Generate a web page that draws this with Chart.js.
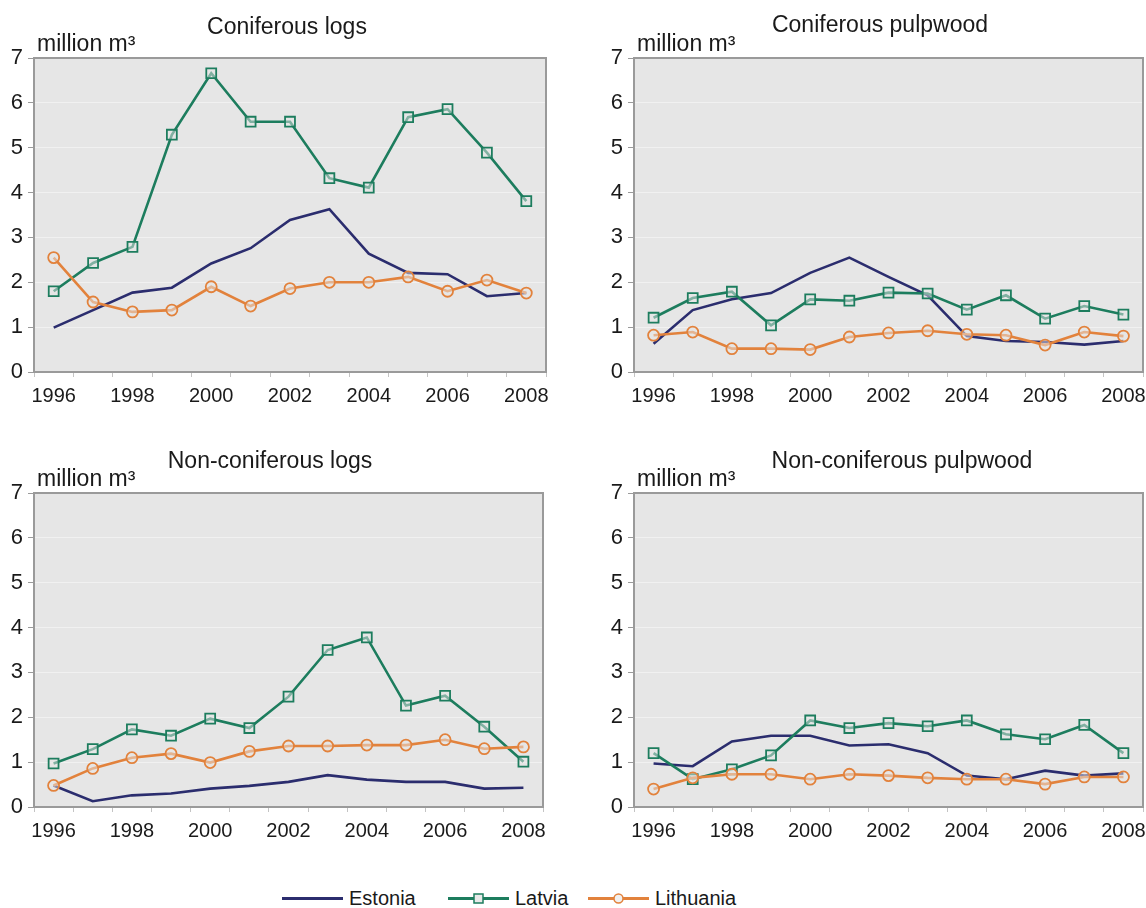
<!DOCTYPE html>
<html>
<head>
<meta charset="utf-8">
<title>Roundwood removals in the Baltic states, 1996-2008</title>
<script src="https://cdn.jsdelivr.net/npm/chart.js@4.4.1/dist/chart.umd.min.js"></script>
<style>
  html, body { margin: 0; padding: 0; background: #ffffff; }
  body {
    width: 1146px; height: 908px; position: relative; overflow: hidden;
    font-family: "Liberation Sans", Arial, Helvetica, sans-serif; color: #1a1a1a;
  }
  canvas.panel { position: absolute; }
  .legend-item { position: absolute; top: 886px; height: 24px; display: flex; align-items: center; font-size: 20px; }
  .legend-item svg { margin-right: 6px; }
</style>
</head>
<body>
<canvas id="p1" class="panel"></canvas>
<canvas id="p2" class="panel"></canvas>
<canvas id="p3" class="panel"></canvas>
<canvas id="p4" class="panel"></canvas>
<div id="legend"></div>

<script>
// Years on the horizontal axis (only even years are labelled)
const years = ['1996','1997','1998','1999','2000','2001','2002','2003','2004','2005','2006','2007','2008'];
const yTicks = [0, 1, 2, 3, 4, 5, 6, 7];
const countries = ['Estonia', 'Latvia', 'Lithuania'];

// Coniferous logs, million m³
const conLogsEstonia   = [0.99, 1.38, 1.77, 1.88, 2.42, 2.76, 3.39, 3.63, 2.64, 2.21, 2.18, 1.69, 1.76];
const conLogsLatvia    = [1.80, 2.43, 2.79, 5.29, 6.66, 5.58, 5.58, 4.32, 4.11, 5.68, 5.86, 4.89, 3.81];
const conLogsLithuania = [2.55, 1.56, 1.34, 1.38, 1.90, 1.47, 1.86, 2.00, 2.00, 2.12, 1.80, 2.05, 1.76];

// Coniferous pulpwood, million m³
const conPulpEstonia   = [0.63, 1.38, 1.62, 1.76, 2.21, 2.55, 2.12, 1.71, 0.80, 0.69, 0.67, 0.61, 0.69];
const conPulpLatvia    = [1.21, 1.65, 1.79, 1.04, 1.62, 1.59, 1.77, 1.75, 1.39, 1.71, 1.19, 1.47, 1.28];
const conPulpLithuania = [0.82, 0.89, 0.52, 0.52, 0.50, 0.78, 0.87, 0.92, 0.84, 0.82, 0.60, 0.89, 0.80];

// Non-coniferous logs, million m³
const nonLogsEstonia   = [0.48, 0.13, 0.26, 0.30, 0.41, 0.47, 0.56, 0.71, 0.61, 0.56, 0.56, 0.41, 0.43];
const nonLogsLatvia    = [0.97, 1.29, 1.73, 1.59, 1.97, 1.76, 2.46, 3.50, 3.78, 2.26, 2.48, 1.79, 1.01];
const nonLogsLithuania = [0.48, 0.86, 1.10, 1.19, 0.99, 1.24, 1.36, 1.36, 1.38, 1.38, 1.50, 1.30, 1.34];

// Non-coniferous pulpwood, million m³
const nonPulpEstonia   = [0.97, 0.91, 1.46, 1.59, 1.59, 1.37, 1.40, 1.20, 0.70, 0.62, 0.81, 0.70, 0.75];
const nonPulpLatvia    = [1.20, 0.62, 0.84, 1.15, 1.93, 1.76, 1.87, 1.80, 1.93, 1.62, 1.51, 1.83, 1.20];
const nonPulpLithuania = [0.40, 0.65, 0.73, 0.73, 0.62, 0.73, 0.70, 0.65, 0.62, 0.62, 0.51, 0.67, 0.67];

const unitLabel = 'million m³';

// Series styling
const seriesStyle = [
  { color: '#2b2d6e', pointStyle: false,    radius: 0 },
  { color: '#1d7d5e', pointStyle: 'rect',   radius: 7 },
  { color: '#e2823c', pointStyle: 'circle', radius: 5.5 }
];

const FONT = '"Liberation Sans", Arial, Helvetica, sans-serif';

// Panel placement on the page
const panels = [
  { id: 'p1', title: 'Coniferous logs',          series: [conLogsEstonia, conLogsLatvia, conLogsLithuania],    left: 0,   top: 0,   width: 573, plotRight: 546, titleX: 287, titleY: 28 },
  { id: 'p2', title: 'Coniferous pulpwood',      series: [conPulpEstonia, conPulpLatvia, conPulpLithuania],    left: 600, top: 0,   width: 546, plotRight: 543, titleX: 280, titleY: 26 },
  { id: 'p3', title: 'Non-coniferous logs',      series: [nonLogsEstonia, nonLogsLatvia, nonLogsLithuania],    left: 0,   top: 435, width: 573, plotRight: 543, titleX: 270, titleY: 27 },
  { id: 'p4', title: 'Non-coniferous pulpwood',  series: [nonPulpEstonia, nonPulpLatvia, nonPulpLithuania],    left: 600, top: 435, width: 546, plotRight: 543, titleX: 302, titleY: 27 }
];
const PANEL_H = 440, PLOT_LEFT = 34, PLOT_TOP = 58, PLOT_BOTTOM = 372;

// Grey plot background, frame, panel title and unit caption
const panelDecor = {
  id: 'panelDecor',
  beforeDraw(chart) {
    const { ctx, chartArea: a } = chart;
    ctx.save();
    ctx.fillStyle = '#e6e6e6';
    ctx.fillRect(a.left, a.top, a.right - a.left, a.bottom - a.top);
    ctx.restore();
  },
  beforeDatasetsDraw(chart) {
    const { ctx, chartArea: a } = chart;
    ctx.save();
    ctx.strokeStyle = '#9a9a9a';
    ctx.lineWidth = 2;
    ctx.strokeRect(a.left, a.top, a.right - a.left, a.bottom - a.top);
    ctx.restore();
  },
  afterDraw(chart, args, opts) {
    const { ctx, chartArea: a } = chart;
    ctx.save();
    ctx.fillStyle = '#1a1a1a';
    ctx.textBaseline = 'middle';
    ctx.font = '23px ' + FONT;
    ctx.textAlign = 'center';
    ctx.fillText(opts.title, opts.titleX, opts.titleY);
    ctx.textAlign = 'left';
    ctx.fillText(unitLabel, a.left + 3, a.top - 13);
    ctx.restore();
  }
};

panels.forEach(p => {
  const canvas = document.getElementById(p.id);
  canvas.width = p.width;
  canvas.height = PANEL_H;
  canvas.style.left = p.left + 'px';
  canvas.style.top = p.top + 'px';

  const datasets = p.series.map((values, i) => ({
    label: countries[i],
    data: values,
    borderColor: seriesStyle[i].color,
    backgroundColor: 'rgba(235,235,235,0.6)',
    borderWidth: 2.6,
    tension: 0,
    pointStyle: seriesStyle[i].pointStyle,
    pointRadius: seriesStyle[i].radius,
    pointBorderWidth: 1.8,
    pointBorderColor: seriesStyle[i].color,
    pointBackgroundColor: 'rgba(230,230,230,0.5)',
    order: 3 - i
  }));

  new Chart(canvas, {
    type: 'line',
    data: { labels: years, datasets },
    plugins: [panelDecor],
    options: {
      responsive: false,
      animation: false,
      devicePixelRatio: 1,
      layout: {
        autoPadding: false,
        padding: { top: PLOT_TOP, right: p.width - p.plotRight, left: 0, bottom: 0 }
      },
      plugins: {
        legend: { display: false },
        tooltip: { enabled: false },
        panelDecor: { title: p.title, titleX: p.titleX, titleY: p.titleY }
      },
      scales: {
        x: {
          type: 'category',
          offset: true,
          grid: { offset: true, drawOnChartArea: false, drawTicks: true, tickLength: 5, tickColor: '#c4c4c4', lineWidth: 1 },
          border: { display: false },
          ticks: {
            autoSkip: false, maxRotation: 0, minRotation: 0, padding: 7,
            color: '#1a1a1a', font: { family: FONT, size: 20 },
            callback: (v, i) => (i % 2 === 0 ? years[i] : '')
          },
          afterFit: s => { s.height = PANEL_H - PLOT_BOTTOM; s.paddingLeft = 0; s.paddingRight = 0; }
        },
        y: {
          min: yTicks[0],
          max: yTicks[yTicks.length - 1],
          afterBuildTicks: s => { s.ticks = yTicks.map(v => ({ value: v })); },
          grid: { color: '#f1f1f1', lineWidth: 1, tickLength: 6, tickColor: '#9a9a9a' },
          border: { display: false },
          ticks: { padding: 5, color: '#1a1a1a', font: { family: FONT, size: 22 } },
          afterFit: s => { s.width = PLOT_LEFT; s.paddingTop = 0; s.paddingBottom = 0; }
        }
      }
    }
  });
});

// Shared legend below the panels
const legendLeft = [282, 448, 588];
const legend = document.getElementById('legend');
countries.forEach((name, i) => {
  const st = seriesStyle[i];
  const item = document.createElement('div');
  item.className = 'legend-item';
  item.style.left = legendLeft[i] + 'px';
  let marker = '';
  if (st.pointStyle === 'rect') {
    marker = `<rect x="26" y="3" width="9" height="9" fill="#e9e9e9" stroke="${st.color}" stroke-width="1.5"/>`;
  } else if (st.pointStyle === 'circle') {
    marker = `<circle cx="30.5" cy="7.5" r="4.5" fill="#f1f1f1" stroke="${st.color}" stroke-width="1.5"/>`;
  }
  item.innerHTML =
    `<svg width="61" height="15" viewBox="0 0 61 15"><line x1="0" y1="7.5" x2="61" y2="7.5" stroke="${st.color}" stroke-width="3"/>${marker}</svg>` +
    `<span>${name}</span>`;
  legend.appendChild(item);
});
</script>
</body>
</html>
